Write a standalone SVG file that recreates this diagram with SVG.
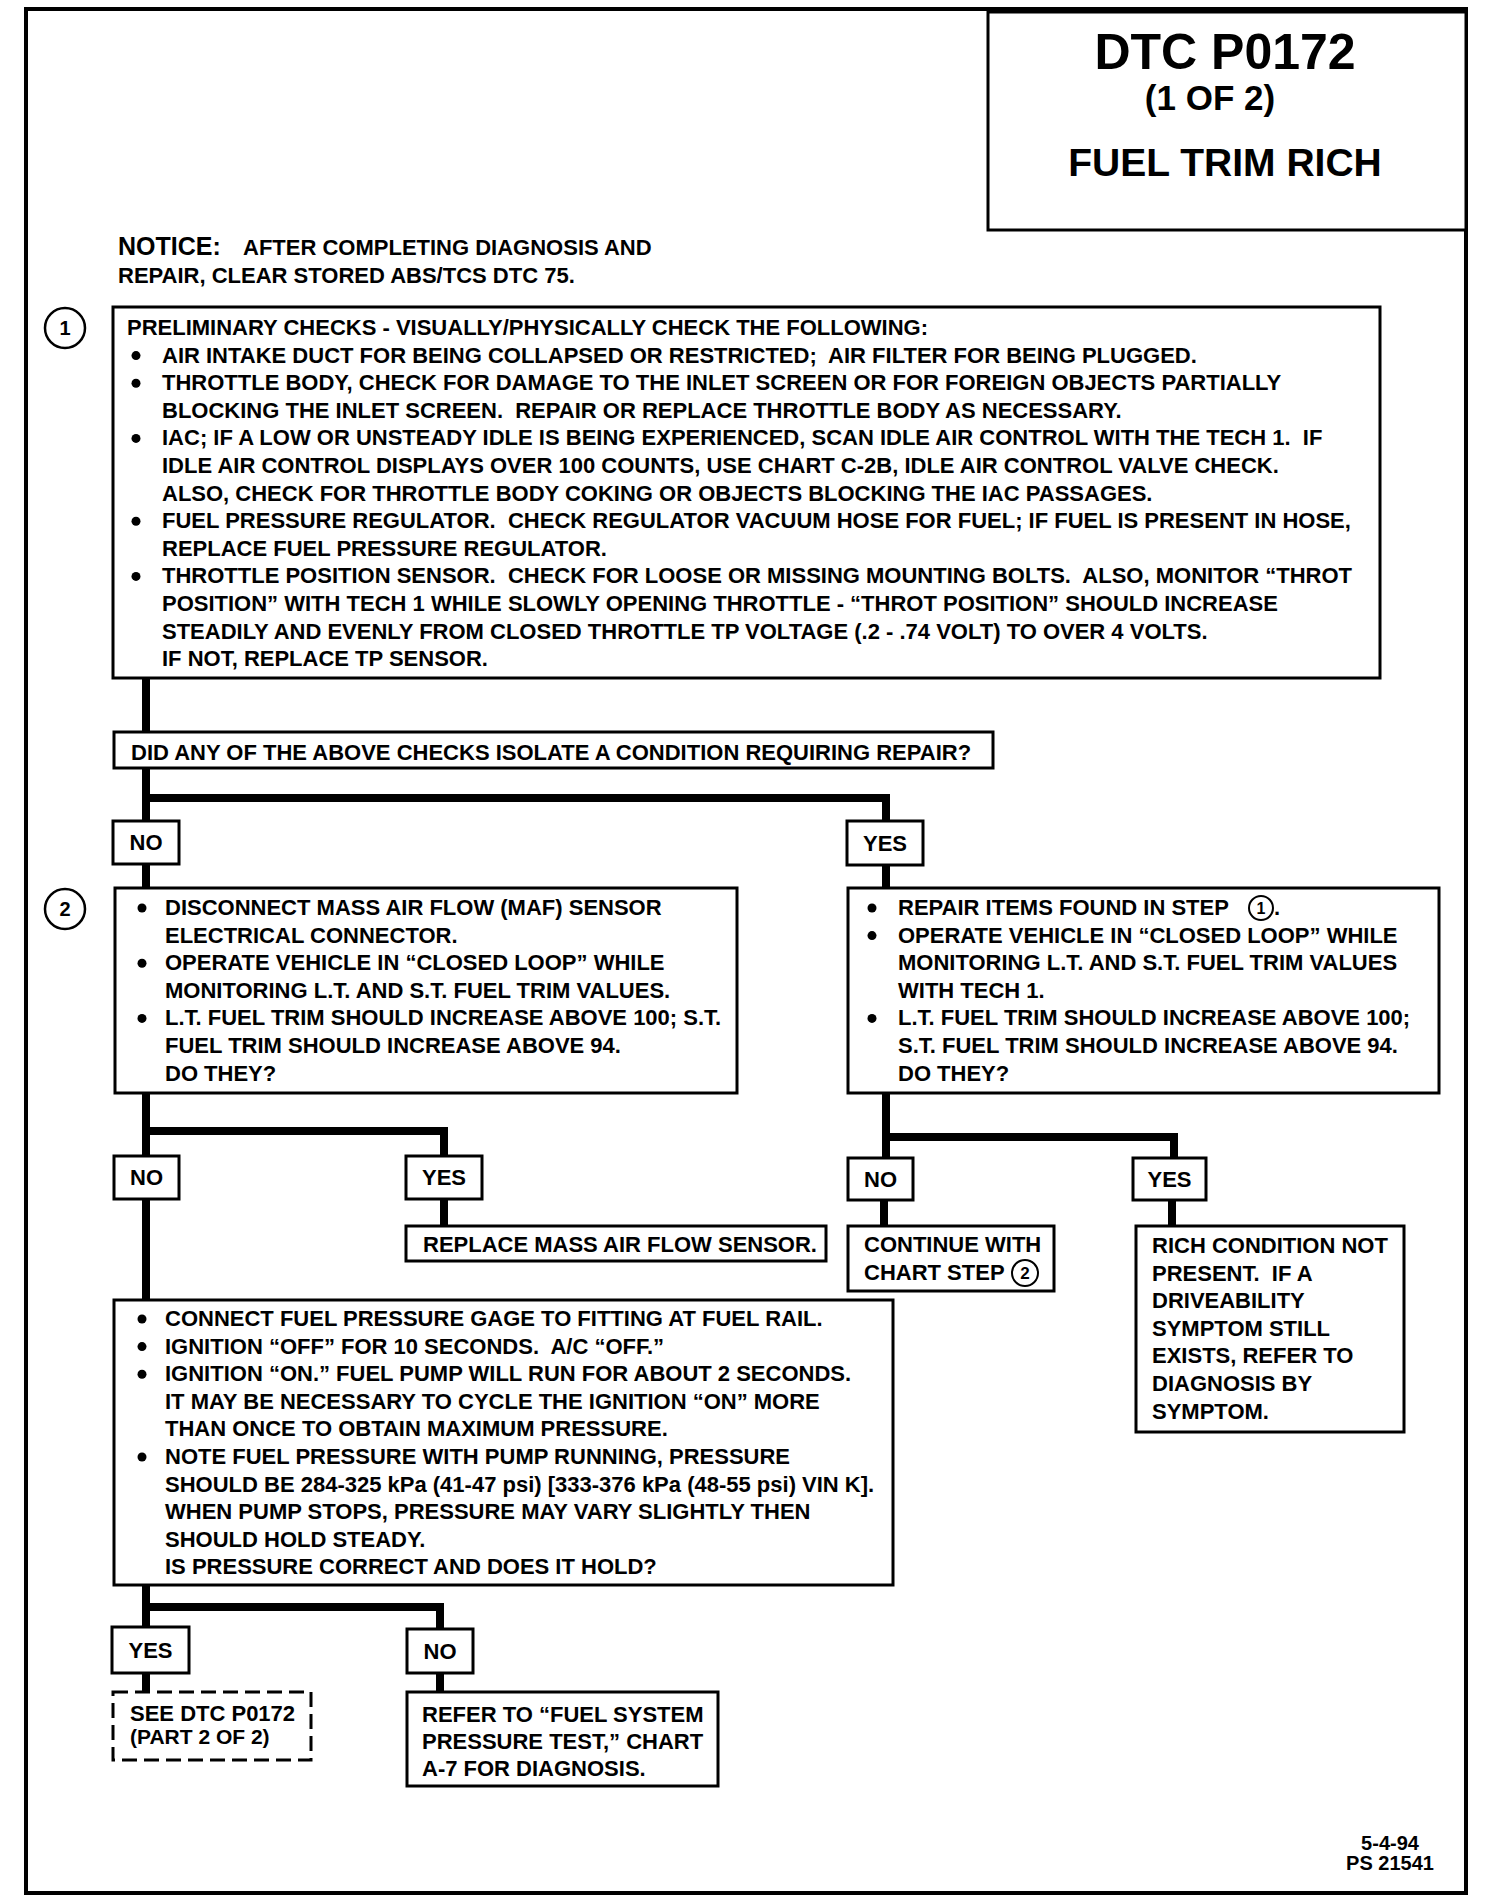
<svg xmlns="http://www.w3.org/2000/svg" width="1488" height="1904" viewBox="0 0 1488 1904">
<style>
.t{font-family:"Liberation Sans",Arial,Helvetica,sans-serif;font-weight:bold;font-size:22px;fill:#000;white-space:pre}
.m{text-anchor:middle}
.dot{fill:#000}
.box{fill:#fff;stroke:#000;stroke-width:3}
.dash{fill:#fff;stroke:#000;stroke-width:3;stroke-dasharray:15 7}
.conn{fill:none;stroke:#000;stroke-width:8;stroke-linejoin:miter}
.ring{fill:#fff;stroke:#000;stroke-width:2.5}
</style>
<rect x="0" y="0" width="1488" height="1904" fill="#fff"/>
<g id="frame"><rect x="26" y="9" width="1440" height="1884" fill="none" stroke="#000" stroke-width="4"/></g>

<g id="connectors">
<path class="conn" d="M146 678V732"/>
<path class="conn" d="M146 768V821M146 798H886V821"/>
<path class="conn" d="M146 864V888"/>
<path class="conn" d="M886 866V888"/>
<path class="conn" d="M146 1093V1156M146 1131H444V1156"/>
<path class="conn" d="M146 1199V1300"/>
<path class="conn" d="M444 1199V1226"/>
<path class="conn" d="M886 1093V1158M886 1137H1174V1158"/>
<path class="conn" d="M884 1200V1226"/>
<path class="conn" d="M1172 1200V1226"/>
<path class="conn" d="M146 1585V1627M146 1607H440V1629"/>
<path class="conn" d="M146 1673V1692"/>
<path class="conn" d="M440 1673V1692"/>
</g>

<g id="title">
<rect x="988" y="12" width="478" height="218" fill="#fff" stroke="#000" stroke-width="3"/>
<text class="t m" x="1225" y="69" style="font-size:50px">DTC P0172</text>
<text class="t m" x="1210" y="110" style="font-size:35px">(1 OF 2)</text>
<text class="t m" x="1225" y="176" style="font-size:39px">FUEL TRIM RICH</text>
</g>

<g id="notice">
<text class="t" x="118" y="255"><tspan style="font-size:25px">NOTICE:</tspan><tspan x="243">AFTER COMPLETING DIAGNOSIS AND</tspan></text>
<text class="t" x="118" y="283">REPAIR, CLEAR STORED ABS/TCS DTC 75.</text>
</g>

<g id="step1-marker">
<circle class="ring" cx="65" cy="328" r="20"/>
<text class="t m" x="65" y="335" style="font-size:20px">1</text>
</g>

<g id="box1">
<rect class="box" x="113" y="307" width="1267" height="371"/>
<text class="t" x="127" y="335">PRELIMINARY CHECKS - VISUALLY/PHYSICALLY CHECK THE FOLLOWING:</text>
<circle class="dot" cx="136" cy="355.6" r="4.5"/><text class="t" x="162" y="362.6">AIR INTAKE DUCT FOR BEING COLLAPSED OR RESTRICTED;  AIR FILTER FOR BEING PLUGGED.</text>
<circle class="dot" cx="136" cy="383.2" r="4.5"/><text class="t" x="162" y="390.2">THROTTLE BODY, CHECK FOR DAMAGE TO THE INLET SCREEN OR FOR FOREIGN OBJECTS PARTIALLY</text>
<text class="t" x="162" y="417.8">BLOCKING THE INLET SCREEN.  REPAIR OR REPLACE THROTTLE BODY AS NECESSARY.</text>
<circle class="dot" cx="136" cy="438.4" r="4.5"/><text class="t" x="162" y="445.4">IAC; IF A LOW OR UNSTEADY IDLE IS BEING EXPERIENCED, SCAN IDLE AIR CONTROL WITH THE TECH 1.  IF</text>
<text class="t" x="162" y="473">IDLE AIR CONTROL DISPLAYS OVER 100 COUNTS, USE CHART C-2B, IDLE AIR CONTROL VALVE CHECK.</text>
<text class="t" x="162" y="500.6">ALSO, CHECK FOR THROTTLE BODY COKING OR OBJECTS BLOCKING THE IAC PASSAGES.</text>
<circle class="dot" cx="136" cy="521.2" r="4.5"/><text class="t" x="162" y="528.2">FUEL PRESSURE REGULATOR.  CHECK REGULATOR VACUUM HOSE FOR FUEL; IF FUEL IS PRESENT IN HOSE,</text>
<text class="t" x="162" y="555.8">REPLACE FUEL PRESSURE REGULATOR.</text>
<circle class="dot" cx="136" cy="576.4" r="4.5"/><text class="t" x="162" y="583.4">THROTTLE POSITION SENSOR.  CHECK FOR LOOSE OR MISSING MOUNTING BOLTS.  ALSO, MONITOR “THROT</text>
<text class="t" x="162" y="611">POSITION” WITH TECH 1 WHILE SLOWLY OPENING THROTTLE - “THROT POSITION” SHOULD INCREASE</text>
<text class="t" x="162" y="638.6">STEADILY AND EVENLY FROM CLOSED THROTTLE TP VOLTAGE (.2 - .74 VOLT) TO OVER 4 VOLTS.</text>
<text class="t" x="162" y="666.2">IF NOT, REPLACE TP SENSOR.</text>
</g>

<g id="question1">
<rect class="box" x="114" y="732" width="879" height="36"/>
<text class="t" x="131" y="760">DID ANY OF THE ABOVE CHECKS ISOLATE A CONDITION REQUIRING REPAIR?</text>
</g>

<g id="no1"><rect class="box" x="113" y="821" width="66" height="43"/><text class="t m" x="146" y="850">NO</text></g>
<g id="yes1"><rect class="box" x="847" y="821" width="76" height="44"/><text class="t m" x="885" y="851">YES</text></g>

<g id="step2-marker">
<circle class="ring" cx="65" cy="909" r="20"/>
<text class="t m" x="65" y="916" style="font-size:20px">2</text>
</g>

<g id="box2-left">
<rect class="box" x="115" y="888" width="622" height="205"/>
<circle class="dot" cx="142" cy="908" r="4.5"/><text class="t" x="165" y="915">DISCONNECT MASS AIR FLOW (MAF) SENSOR</text>
<text class="t" x="165" y="942.6">ELECTRICAL CONNECTOR.</text>
<circle class="dot" cx="142" cy="963.2" r="4.5"/><text class="t" x="165" y="970.2">OPERATE VEHICLE IN “CLOSED LOOP” WHILE</text>
<text class="t" x="165" y="997.8">MONITORING L.T. AND S.T. FUEL TRIM VALUES.</text>
<circle class="dot" cx="142" cy="1018.4" r="4.5"/><text class="t" x="165" y="1025.4">L.T. FUEL TRIM SHOULD INCREASE ABOVE 100; S.T.</text>
<text class="t" x="165" y="1053">FUEL TRIM SHOULD INCREASE ABOVE 94.</text>
<text class="t" x="165" y="1080.6">DO THEY?</text>
</g>

<g id="box2-right">
<rect class="box" x="848" y="888" width="591" height="205"/>
<circle class="dot" cx="872" cy="908" r="4.5"/><text class="t" x="898" y="915">REPAIR ITEMS FOUND IN STEP</text>
<circle class="ring" cx="1261" cy="908" r="12" style="stroke-width:2"/>
<text class="t m" x="1261" y="914" style="font-size:16px">1</text>
<text class="t" x="1274" y="915">.</text>
<circle class="dot" cx="872" cy="935.6" r="4.5"/><text class="t" x="898" y="942.6">OPERATE VEHICLE IN “CLOSED LOOP” WHILE</text>
<text class="t" x="898" y="970.2">MONITORING L.T. AND S.T. FUEL TRIM VALUES</text>
<text class="t" x="898" y="997.8">WITH TECH 1.</text>
<circle class="dot" cx="872" cy="1018.4" r="4.5"/><text class="t" x="898" y="1025.4">L.T. FUEL TRIM SHOULD INCREASE ABOVE 100;</text>
<text class="t" x="898" y="1053">S.T. FUEL TRIM SHOULD INCREASE ABOVE 94.</text>
<text class="t" x="898" y="1080.6">DO THEY?</text>
</g>

<g id="no2"><rect class="box" x="114" y="1156" width="65" height="43"/><text class="t m" x="146.5" y="1185">NO</text></g>
<g id="yes2"><rect class="box" x="406" y="1156" width="76" height="43"/><text class="t m" x="444" y="1185">YES</text></g>
<g id="no3"><rect class="box" x="848" y="1158" width="65" height="42"/><text class="t m" x="880.5" y="1187">NO</text></g>
<g id="yes3"><rect class="box" x="1133" y="1158" width="73" height="42"/><text class="t m" x="1169.5" y="1187">YES</text></g>

<g id="replace-maf">
<rect class="box" x="406" y="1226" width="420" height="35"/>
<text class="t" x="423" y="1252">REPLACE MASS AIR FLOW SENSOR.</text>
</g>

<g id="continue">
<rect class="box" x="848" y="1226" width="206" height="65"/>
<text class="t" x="864" y="1252">CONTINUE WITH</text>
<text class="t" x="864" y="1280">CHART STEP</text>
<circle class="ring" cx="1025" cy="1273" r="13" style="stroke-width:2"/>
<text class="t m" x="1025" y="1279" style="font-size:17px">2</text>
</g>

<g id="rich">
<rect class="box" x="1136" y="1226" width="268" height="206"/>
<text class="t" x="1152" y="1253">RICH CONDITION NOT</text>
<text class="t" x="1152" y="1280.6">PRESENT.  IF A</text>
<text class="t" x="1152" y="1308.2">DRIVEABILITY</text>
<text class="t" x="1152" y="1335.8">SYMPTOM STILL</text>
<text class="t" x="1152" y="1363.4">EXISTS, REFER TO</text>
<text class="t" x="1152" y="1391">DIAGNOSIS BY</text>
<text class="t" x="1152" y="1418.6">SYMPTOM.</text>
</g>

<g id="box3">
<rect class="box" x="114" y="1300" width="779" height="285"/>
<circle class="dot" cx="142" cy="1319" r="4.5"/><text class="t" x="165" y="1326">CONNECT FUEL PRESSURE GAGE TO FITTING AT FUEL RAIL.</text>
<circle class="dot" cx="142" cy="1346.6" r="4.5"/><text class="t" x="165" y="1353.6">IGNITION “OFF” FOR 10 SECONDS.  A/C “OFF.”</text>
<circle class="dot" cx="142" cy="1374.2" r="4.5"/><text class="t" x="165" y="1381.2">IGNITION “ON.” FUEL PUMP WILL RUN FOR ABOUT 2 SECONDS.</text>
<text class="t" x="165" y="1408.8">IT MAY BE NECESSARY TO CYCLE THE IGNITION “ON” MORE</text>
<text class="t" x="165" y="1436.4">THAN ONCE TO OBTAIN MAXIMUM PRESSURE.</text>
<circle class="dot" cx="142" cy="1457" r="4.5"/><text class="t" x="165" y="1464">NOTE FUEL PRESSURE WITH PUMP RUNNING, PRESSURE</text>
<text class="t" x="165" y="1491.6">SHOULD BE 284-325 kPa (41-47 psi) [333-376 kPa (48-55 psi) VIN K].</text>
<text class="t" x="165" y="1519.2">WHEN PUMP STOPS, PRESSURE MAY VARY SLIGHTLY THEN</text>
<text class="t" x="165" y="1546.8">SHOULD HOLD STEADY.</text>
<text class="t" x="165" y="1574.4">IS PRESSURE CORRECT AND DOES IT HOLD?</text>
</g>

<g id="yes4"><rect class="box" x="112" y="1627" width="77" height="46"/><text class="t m" x="150.5" y="1658">YES</text></g>
<g id="no4"><rect class="box" x="407" y="1629" width="66" height="44"/><text class="t m" x="440" y="1659">NO</text></g>

<g id="see-part2">
<rect class="dash" x="113" y="1692" width="198" height="68"/>
<text class="t" x="130" y="1721">SEE DTC P0172</text>
<text class="t" x="130" y="1744" style="font-size:21px">(PART 2 OF 2)</text>
</g>

<g id="refer">
<rect class="box" x="407" y="1692" width="311" height="94"/>
<text class="t" x="422" y="1722">REFER TO “FUEL SYSTEM</text>
<text class="t" x="422" y="1749">PRESSURE TEST,” CHART</text>
<text class="t" x="422" y="1776">A-7 FOR DIAGNOSIS.</text>
</g>

<g id="footer">
<text class="t m" x="1390" y="1850" style="font-size:20px">5-4-94</text>
<text class="t m" x="1390" y="1870" style="font-size:20px">PS 21541</text>
</g>
</svg>
